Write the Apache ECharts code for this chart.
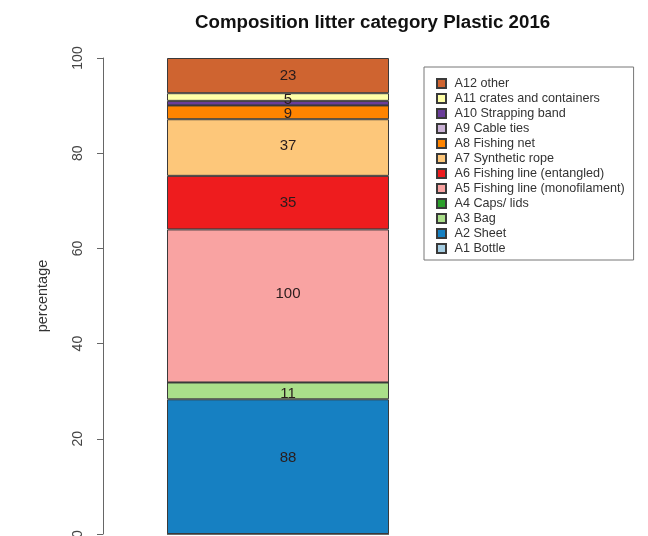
<!DOCTYPE html>
<html lang="en">
<head>
    <meta charset="UTF-8">
    <title>Composition litter category Plastic 2016</title>
    <script src="https://cdn.jsdelivr.net/npm/echarts@6/dist/echarts.min.js"></script>
    <style>
        body { margin: 0; background: #fff; }
        #chart { width: 648px; height: 536px; }
    </style>
</head>
<body>
    <div id="chart"></div>
    <script>
        // litter categories, bottom of the stack first
        const categories = [
            'A1 Bottle', 'A2 Sheet', 'A3 Bag', 'A4 Caps/ lids',
            'A5 Fishing line (monofilament)', 'A6 Fishing line (entangled)',
            'A7 Synthetic rope', 'A8 Fishing net', 'A9 Cable ties',
            'A10 Strapping band', 'A11 crates and containers', 'A12 other'
        ];
        // item counts (printed on the bar)
        const counts = [0, 88, 11, 0, 100, 35, 37, 9, 0, 3, 5, 23];
        const colors = [
            '#a6cee3', '#1680c2', '#aadf8a', '#2ca02c', '#f9a3a2', '#ee1c1e',
            '#fdc77a', '#ff8400', '#cab2d6', '#6a3d9a', '#ffffa8', '#cf6430'
        ];
        const yTicks = [0, 20, 40, 60, 80, 100];

        // the original labels don't sit exactly mid-segment, nudge them (px)
        const labelShiftY = [0, -9, 3, 0, -12, 0, -2, 2, 0, 0, 3, 0];

        const total = counts.reduce((a, b) => a + b, 0);

        const chart = echarts.init(document.getElementById('chart'));

        const series = categories.map((name, i) => ({
            name: name,
            type: 'bar',
            stack: 'plastic',
            barWidth: 222,
            data: [counts[i] / total * 100],
            itemStyle: { color: colors[i], borderColor: '#3a3a3a', borderWidth: 1 },
            label: {
                show: counts[i] >= 5,
                position: 'inside',
                offset: [10, labelShiftY[i]],
                formatter: () => String(counts[i]),
                color: '#2a1c1c',
                fontSize: 15,
                fontFamily: 'Liberation Sans'
            },
            emphasis: { disabled: true }
        }));

        chart.setOption({
            animation: false,
            title: {
                text: 'Composition litter category Plastic 2016',
                left: 195,
                top: 13,
                padding: 0,
                textStyle: { fontSize: 18.7, fontWeight: 'bold', color: '#111', fontFamily: 'Liberation Sans' }
            },
            legend: {
                orient: 'vertical',
                left: 424,
                top: 67,
                data: categories.slice().reverse(),
                icon: 'path://M0,0H10V10H0Z',
                itemWidth: 16,
                itemHeight: 9,
                itemGap: 2,
                padding: [10, 9, 5, 12],
                backgroundColor: '#fff',
                borderColor: '#777',
                borderWidth: 1,
                selectedMode: false,
                textStyle: { fontSize: 12.6, lineHeight: 13, color: '#333', fontFamily: 'Liberation Sans' }
            },
            grid: { left: 103, right: 195, top: 58, bottom: 2, outerBoundsMode: 'none' },
            xAxis: {
                type: 'category',
                data: ['2016'],
                show: false
            },
            yAxis: {
                type: 'value',
                min: yTicks[0],
                max: yTicks[yTicks.length - 1],
                interval: 20,
                name: 'percentage',
                nameLocation: 'middle',
                nameGap: 53,
                nameTextStyle: { fontSize: 14.5, color: '#333', fontFamily: 'Liberation Sans' },
                axisLine: { show: true, lineStyle: { color: '#666' } },
                axisTick: { show: true, length: 6, lineStyle: { color: '#666' } },
                axisLabel: { rotate: 90, margin: 18, fontSize: 14, color: '#444', fontFamily: 'Liberation Sans' },
                splitLine: { show: false }
            },
            series: series
        });
    </script>
</body>
</html>
